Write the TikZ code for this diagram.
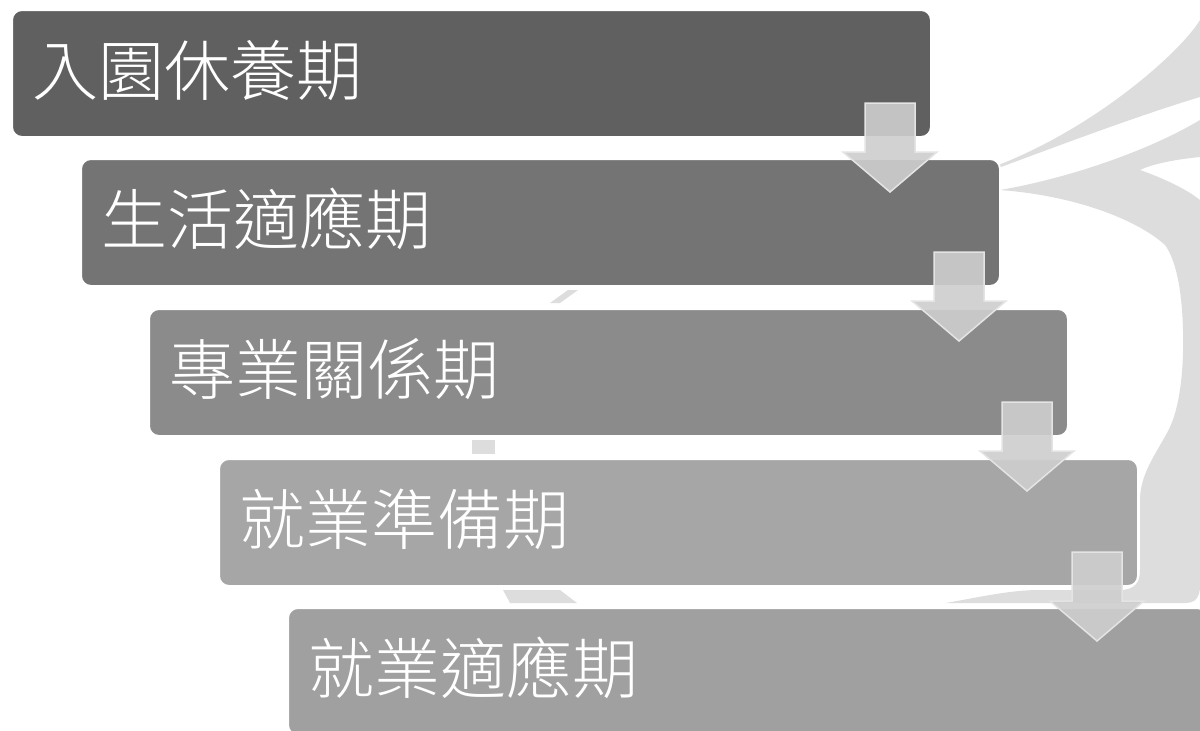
\documentclass[tikz,border=0pt]{standalone}
\usepackage{fontspec}
\newfontfamily\cjk{Noto Sans CJK TC}[UprightFont={* Light}]
\usetikzlibrary{calc}
\definecolor{swoosh}{RGB}{221,221,221}
\definecolor{fillA}{RGB}{96,96,96}
\definecolor{fillB}{RGB}{116,116,116}
\definecolor{fillC}{RGB}{139,139,139}
\definecolor{fillD}{RGB}{166,166,166}
\definecolor{fillE}{RGB}{160,160,160}
\definecolor{arrowfill}{RGB}{206,206,206}
\definecolor{arrowline}{RGB}{228,228,228}
\begin{document}
\begin{tikzpicture}[x=1pt,y=-1pt,
  stage/.style={draw=white, line width=2pt, rounded corners=10pt, anchor=north west,
    minimum height=127pt, text width=878pt, inner xsep=20.5pt, inner ysep=0pt,
    text height=55pt, text depth=12pt,
    align=left, text=white, font=\cjk\fontsize{66}{66}\selectfont},
  flowarrow/.style={fill=arrowfill, fill opacity=0.9, draw=arrowline, line width=1.5pt, line join=miter},
  bg/.style={fill=swoosh, draw=none}]
\useasboundingbox (0,0) rectangle (1200,731);
\clip (0,0) rectangle (1200,731);
\fill[white] (0,0) rectangle (1200,731);
% background swooshes
\fill[bg] (985,170) .. controls (1090,133) and (1180,53) .. (1200,20)
  -- (1201,20) -- (1201,97)
  -- (1200,97) .. controls (1140,115) and (1060,145) .. (985,173) -- cycle;
\fill[bg] (1000,190) .. controls (1070,178) and (1150,150) .. (1200,120)
  -- (1201,120) -- (1201,157)
  -- (1200,157) .. controls (1170,160) and (1150,165) .. (1140,170)
  .. controls (1160,177) and (1185,188) .. (1200,200)
  -- (1201,200) -- (1201,585)
  -- (1200,585) .. controls (1200,597) and (1196,603) .. (1185,603)
  -- (946,603) .. controls (980,597) and (1010,590) .. (1040,590)
  -- (1120,590) .. controls (1135,590) and (1140,582) .. (1140,570)
  -- (1140,500) .. controls (1140,475) and (1155,455) .. (1167,433)
  .. controls (1180,410) and (1184,370) .. (1183,330)
  .. controls (1182,290) and (1176,260) .. (1165,245)
  .. controls (1140,222) and (1080,196) .. (1000,190) -- cycle;
\fill[bg] (1184,210) rectangle (1201,590);
\fill[bg] (550,303) -- (560,303) -- (578,290) -- (568,290) -- cycle;
\fill[bg] (472,440) rectangle (495,454);
\fill[bg] (503,590) -- (560,590) -- (577,603) -- (510,603) -- cycle;
% stages
\node[stage, fill=fillA] (b1) at (11,9) {入園休養期};
\node[stage, fill=fillB] (b2) at (80,158) {生活適應期};
\node[stage, fill=fillC] (b3) at (148,308) {專業關係期};
\node[stage, fill=fillD] (b4) at (218,458) {就業準備期};
\node[stage, fill=fillE] (b5) at (287,607) {就業適應期};
% arrows
\foreach \s in {b1,b2,b3,b4}{
  \begin{scope}[shift={(\s.south east)}]
    \draw[flowarrow] (-67,-35) -- (-17,-35) -- (-17,14) -- (5,14) -- (-42,54)
      -- (-89,14) -- (-67,14) -- cycle;
  \end{scope}
}
\end{tikzpicture}
\end{document}
